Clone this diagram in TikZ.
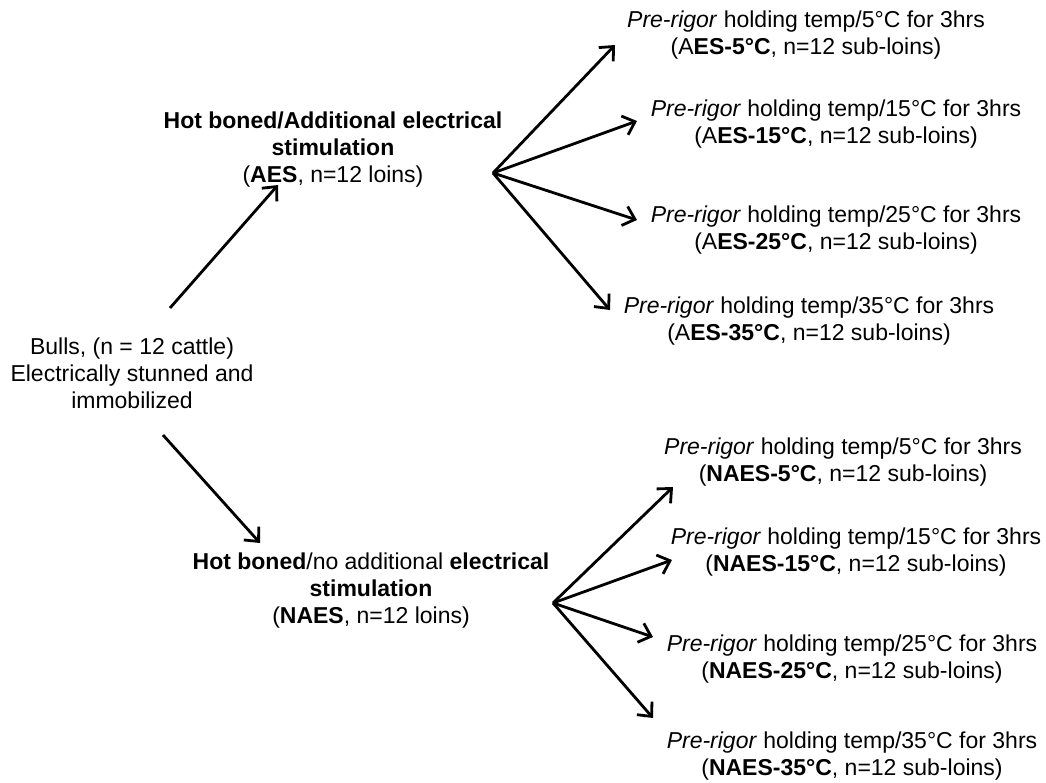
\documentclass[tikz,border=0pt]{standalone}
\usepackage{fontspec}
\setmainfont{Liberation Sans}
\usetikzlibrary{arrows.meta}
\begin{document}
\begin{tikzpicture}[x=0.5pt,y=-0.5pt,
    lbl/.style={align=center,inner sep=0pt,font=\fontsize{11.5}{13.5}\selectfont},
    >={Straight Barb[length=5.5pt,width=10pt]},
    line width=1.4pt]
                \useasboundingbox (0,0) rectangle (1046,783);
                \node[lbl] (B) at (132,373) {Bulls, (n = 12 cattle)\\Electrically stunned and\\immobilized};
                \node[lbl] (A) at (333,150) {\textbf{Hot boned/Additional electrical}\\\textbf{stimulation}\\(\textbf{AES}, n=12 loins)};
                \node[lbl] (N) at (371,591) {\textbf{Hot boned}/no additional \textbf{electrical}\\\textbf{stimulation}\\(\textbf{NAES}, n=12 loins)};
                \node[lbl] (A5) at (806,35) {\textit{Pre-rigor} holding temp/5°C for 3hrs\\(A\textbf{ES-5°C}, n=12 sub-loins)};
                \node[lbl] (A15) at (836,124) {\textit{Pre-rigor} holding temp/15°C for 3hrs\\(A\textbf{ES-15°C}, n=12 sub-loins)};
                \node[lbl] (A25) at (836,230) {\textit{Pre-rigor} holding temp/25°C for 3hrs\\(A\textbf{ES-25°C}, n=12 sub-loins)};
                \node[lbl] (A35) at (809,321) {\textit{Pre-rigor} holding temp/35°C for 3hrs\\(A\textbf{ES-35°C}, n=12 sub-loins)};
                \node[lbl] (N5) at (843,462) {\textit{Pre-rigor} holding temp/5°C for 3hrs\\(\textbf{NAES-5°C}, n=12 sub-loins)};
                \node[lbl] (N15) at (856,552) {\textit{Pre-rigor} holding temp/15°C for 3hrs\\(\textbf{NAES-15°C}, n=12 sub-loins)};
                \node[lbl] (N25) at (852,659) {\textit{Pre-rigor} holding temp/25°C for 3hrs\\(\textbf{NAES-25°C}, n=12 sub-loins)};
                \node[lbl] (N35) at (852,756) {\textit{Pre-rigor} holding temp/35°C for 3hrs\\(\textbf{NAES-35°C}, n=12 sub-loins)};
                % arrow ends
                \coordinate (bA) at (170,308);
                \coordinate (tA) at (278,185);
                \coordinate (bN) at (163,435);
                \coordinate (tN) at (260,543);
                \coordinate (fA) at (493,173);
                \coordinate (fN) at (553,603);
                \coordinate (tA5) at (615,45);
                \coordinate (tA15) at (637,121);
                \coordinate (tA25) at (637,220);
                \coordinate (tA35) at (610,310);
                \coordinate (tN5) at (673,487);
                \coordinate (tN15) at (672,560);
                \coordinate (tN25) at (653,637);
                \coordinate (tN35) at (653,718);
                \draw [->] (bA) -- (tA);
                \draw [->] (bN) -- (tN);
                \draw [->] (fA) -- (tA5);
                \draw [->] (fA) -- (tA15);
                \draw [->] (fA) -- (tA25);
                \draw [->] (fA) -- (tA35);
                \draw [->] (fN) -- (tN5);
                \draw [->] (fN) -- (tN15);
                \draw [->] (fN) -- (tN25);
                \draw [->] (fN) -- (tN35);
            \end{tikzpicture}
\end{document}
